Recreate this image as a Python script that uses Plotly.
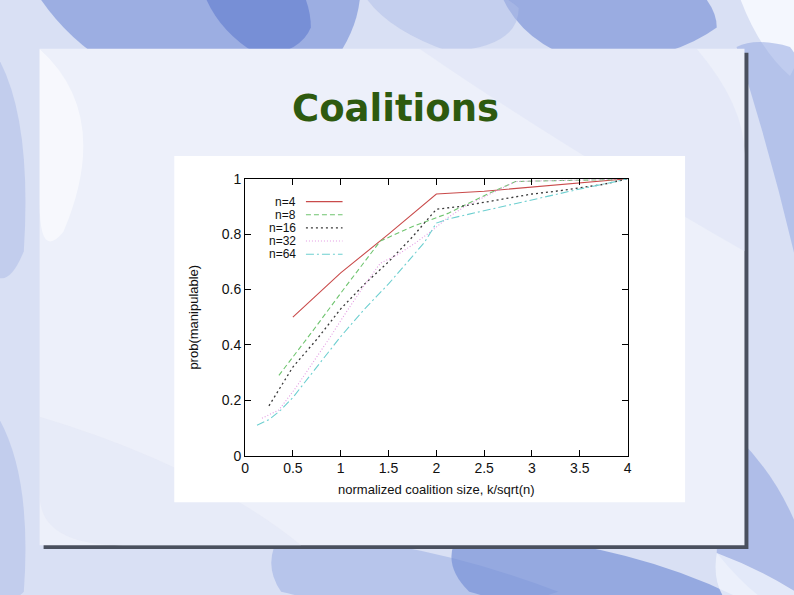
import plotly.graph_objects as go

W, H = 794, 595

# ── data ─────────────────────────────────────────────────
x_n4 = [0.5, 1.0, 1.5, 2.0, 2.5, 3.0, 3.5, 4.0]
y_n4 = [0.50, 0.66, 0.80, 0.945, 0.955, 0.97, 0.985, 1.0]

x_n8 = [0.354, 0.707, 1.061, 1.414, 1.768, 2.121, 2.475, 2.828, 3.182, 3.536, 3.889]
y_n8 = [0.29, 0.45, 0.615, 0.775, 0.83, 0.875, 0.935, 0.99, 0.993, 0.995, 0.997]

x_n16 = [0.25, 0.5, 0.75, 1.0, 1.25, 1.5, 1.75, 2.0, 2.25, 2.5, 2.75, 3.0, 3.25, 3.5, 3.75, 4.0]
y_n16 = [0.18, 0.32, 0.42, 0.53, 0.62, 0.70, 0.79, 0.89, 0.90, 0.915, 0.93, 0.945, 0.955, 0.968, 0.98, 1.0]

x_n32 = [0.177, 0.354, 0.530, 0.707, 0.884, 1.061, 1.237, 1.414, 1.591, 1.768, 1.945,
         2.121, 2.298, 2.475, 2.652, 2.828, 3.005, 3.182, 3.359, 3.536, 3.712, 3.889]
y_n32 = [0.135, 0.165, 0.245, 0.335, 0.425, 0.52, 0.61, 0.695, 0.725, 0.765, 0.81,
         0.86, 0.90, 0.93, 0.96, 0.99, 0.992, 0.993, 0.994, 0.995, 0.996, 0.998]

x_n64 = [0.125, 0.25, 0.375, 0.5, 0.625, 0.75, 0.875, 1.0, 1.125, 1.25, 1.375, 1.5, 1.625,
         1.75, 1.875, 2.0, 2.125, 2.25, 2.375, 2.5, 2.625, 2.75, 2.875, 3.0, 3.125, 3.25,
         3.375, 3.5, 3.625, 3.75, 3.875, 4.0]
y_n64 = [0.11, 0.13, 0.165, 0.21, 0.265, 0.32, 0.375, 0.43, 0.48, 0.53, 0.575, 0.62, 0.67,
         0.72, 0.77, 0.84, 0.855, 0.865, 0.875, 0.885, 0.895, 0.905, 0.915, 0.925, 0.935, 0.945,
         0.955, 0.963, 0.972, 0.98, 0.99, 1.0]

series_names = ["n=4", "n=8", "n=16", "n=32", "n=64"]
series_x = [x_n4, x_n8, x_n16, x_n32, x_n64]
series_y = [y_n4, y_n8, y_n16, y_n32, y_n64]
colors = ["#c94b4b", "#6fc46f", "#3a3a3a", "#e39ae3", "#6dcfd0"]
dashes = ["solid", "5px,3px", "2px,3px", "1px,2px", "8px,3px,2px,3px"]
widths = [1.1, 1.1, 1.3, 1.1, 1.1]

x_ticks = [0, 0.5, 1, 1.5, 2, 2.5, 3, 3.5, 4]
x_ticktext = ["0", "0.5", "1", "1.5", "2", "2.5", "3", "3.5", "4"]
y_ticks = [0, 0.2, 0.4, 0.6, 0.8, 1]
y_ticktext = ["0", "0.2", "0.4", "0.6", "0.8", "1"]


# ── page-pixel -> paper helpers (margins are 0) ───────────
def px(x):
    return x / W


def py(y):
    return 1 - y / H


def path(points):
    s = f"M {px(points[0][0]):.4f} {py(points[0][1]):.4f}"
    for (x1, y1), (x2, y2) in zip(points[1::2], points[2::2]):
        s += f" Q {px(x1):.4f} {py(y1):.4f} {px(x2):.4f} {py(y2):.4f}"
    return s + " Z"


shapes = []


def rect(x0, y0, x1, y1, fill):
    shapes.append(dict(type="rect", xref="paper", yref="paper",
                       x0=px(x0), x1=px(x1), y0=py(y1), y1=py(y0),
                       fillcolor=fill, line=dict(width=0), layer="below"))


def blob(points, fill):
    shapes.append(dict(type="path", xref="paper", yref="paper", path=path(points),
                       fillcolor=fill, line=dict(width=0), layer="below"))


# ── slide background ──────────────────────────────────────
rect(-20, -20, W + 20, H + 20, "#d9e0f4")
# top band
blob([(30, -20), (60, 30), (110, 60), (200, 70), (330, 60), (360, 20), (360, -20), (200, -30), (30, -20)],
     "rgba(135,157,220,0.75)")
blob([(200, -20), (215, 25), (260, 50), (300, 45), (310, 20), (310, 0), (300, -20), (250, -30), (200, -20)],
     "rgba(95,122,206,0.6)")
blob([(500, -20), (520, 40), (600, 60), (680, 50), (720, 20), (720, 0), (700, -20), (600, -30), (500, -20)],
     "rgba(120,145,215,0.65)")
blob([(360, -20), (380, 20), (450, 45), (520, 40), (520, 0), (500, -20), (440, -30), (400, -25), (360, -20)],
     "rgba(175,190,232,0.5)")
blob([(740, -20), (760, 40), (794, 70), (810, 40), (810, 0), (800, -20), (780, -30), (760, -25), (740, -20)],
     "rgba(248,250,255,0.85)")
# right side
blob([(740, 40), (775, 150), (800, 260), (820, 200), (820, 120), (810, 60), (794, 40), (760, 30), (740, 40)],
     "rgba(150,170,226,0.55)")
blob([(740, 440), (790, 490), (810, 560), (810, 600), (790, 620), (760, 610), (720, 560), (720, 500), (740, 440)],
     "rgba(140,160,222,0.55)")
# left side
blob([(-20, 30), (30, 90), (20, 250), (0, 300), (-20, 260), (-30, 200), (-30, 120), (-30, 60), (-20, 30)],
     "rgba(175,190,232,0.55)")
blob([(-20, 400), (30, 460), (20, 600), (0, 620), (-20, 600), (-30, 540), (-30, 480), (-30, 420), (-20, 400)],
     "rgba(175,190,232,0.55)")
# bottom band
blob([(280, 540), (420, 545), (560, 600), (500, 620), (420, 620), (340, 615), (280, 600), (260, 570), (280, 540)],
     "rgba(160,178,228,0.6)")
blob([(460, 540), (620, 545), (740, 605), (660, 620), (600, 620), (520, 615), (470, 600), (440, 570), (460, 540)],
     "rgba(120,145,215,0.7)")
blob([(720, 560), (760, 575), (800, 600), (810, 610), (800, 620), (760, 620), (730, 610), (715, 590), (720, 560)],
     "rgba(240,244,252,0.8)")

# ── slide panel with shadow ───────────────────────────────
rect(40, 46, 752, 556, "#4a505e")
rect(36, 42, 748, 552, "#edf0fa")
blob([(36, 42), (110, 110), (60, 230), (36, 260), (36, 200), (36, 150), (36, 100), (36, 70), (36, 42)],
     "rgba(255,255,255,0.55)")
blob([(420, 42), (560, 140), (748, 250), (748, 200), (748, 150), (748, 100), (700, 42), (560, 42), (420, 42)],
     "rgba(222,228,246,0.55)")
blob([(36, 420), (200, 470), (300, 552), (200, 552), (120, 552), (36, 552), (36, 500), (36, 460), (36, 420)],
     "rgba(225,230,246,0.5)")

# ── white chart image ─────────────────────────────────────
rect(172, 152, 688, 508, "#ffffff")

# ── legend drawn gnuplot-style: label left, sample right ──
legend_rows = [199, 212.5, 226, 239.5, 253]
annotations = []
for name, c, d, w, yy in zip(series_names, colors, dashes, widths, legend_rows):
    annotations.append(dict(x=px(297), y=py(yy), xref="paper", yref="paper", text=name,
                            showarrow=False, xanchor="right", yanchor="middle",
                            font=dict(family="Liberation Sans, Arial", size=12, color="#111111")))
    shapes.append(dict(type="line", xref="paper", yref="paper",
                       x0=px(305), x1=px(342), y0=py(yy), y1=py(yy),
                       line=dict(color=c, width=w, dash=d), layer="above"))

annotations.append(dict(x=px(395), y=py(103), xref="paper", yref="paper", text="<b>Coalitions</b>",
                        showarrow=False, xanchor="center", yanchor="middle",
                        font=dict(family="DejaVu Sans", size=37, color="#2e5a0f")))

fig = go.Figure()
for name, xs, ys, c, d, w in zip(series_names, series_x, series_y, colors, dashes, widths):
    fig.add_trace(go.Scatter(
        x=xs, y=ys, name=name, mode="lines",
        line=dict(color=c, width=w, dash=d),
        showlegend=False, hoverinfo="skip",
    ))

axis_common = dict(
    showgrid=False, zeroline=False,
    showline=True, linecolor="#000000", linewidth=1, mirror="allticks",
    ticks="inside", ticklen=6, tickcolor="#000000", tickwidth=1,
    tickfont=dict(family="Liberation Sans, Arial", size=14, color="#111111"),
)

fig.update_layout(
    width=W, height=H,
    margin=dict(l=0, r=0, t=0, b=0),
    paper_bgcolor="#d9e0f4",
    plot_bgcolor="rgba(0,0,0,0)",
    showlegend=False,
    xaxis=dict(
        axis_common,
        domain=[px(243.5), px(630)],
        range=[0, 4], tickvals=x_ticks, ticktext=x_ticktext,
        title=dict(text="normalized coalition size, k/sqrt(n)", standoff=9,
                   font=dict(family="Liberation Sans, Arial", size=13, color="#111111")),
    ),
    yaxis=dict(
        axis_common,
        domain=[py(460), py(175.5)],
        range=[0, 1], tickvals=y_ticks, ticktext=y_ticktext,
        title=dict(text="prob(manipulable)", standoff=20,
                   font=dict(family="Liberation Sans, Arial", size=13, color="#111111")),
    ),
    shapes=shapes,
    annotations=annotations,
)

# drop the browser's default body margin so the slide fills the page
fig.write_html("out.html", config={"displayModeBar": False},
               post_script="document.body.style.margin = '0';")
